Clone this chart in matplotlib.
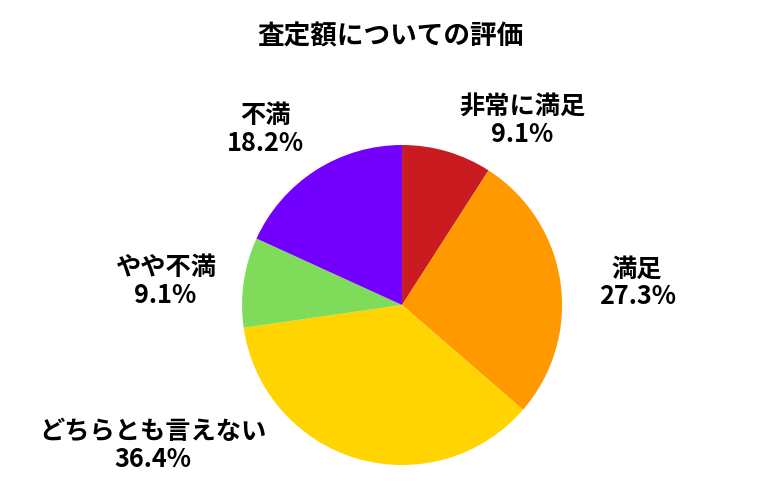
import matplotlib
matplotlib.use("Agg")
import matplotlib.pyplot as plt
import numpy as np

plt.rcParams['font.family'] = ['Noto Sans CJK JP', 'DejaVu Sans']

categories = ["非常に満足", "満足", "どちらとも言えない", "やや不満", "不満"]
values = [1, 3, 4, 1, 2]
colors = ["#C91B20", "#FF9900", "#FFD400", "#7FDB5A", "#7300FF"]

# label centre positions (in units of pie radius)
label_pos = [(0.75, 1.156), (1.469, 0.138), (-1.556, -0.875), (-1.481, 0.144), (-0.856, 1.094)]

fig = plt.figure(figsize=(7.8, 5.0), dpi=100)
ax = fig.add_axes([0.3103, 0.07, 0.4103, 0.64])
wedges, _ = ax.pie(values, colors=colors, startangle=90, counterclock=False,
                   radius=1.0, wedgeprops=dict(linewidth=0))
ax.set_xlim(-1, 1)
ax.set_ylim(-1, 1)
ax.set_aspect('equal')

total = sum(values)
for cat, v, (x, y) in zip(categories, values, label_pos):
    pct = v / total * 100
    ax.text(x, y, f"{cat}\n{pct:.1f}%", ha='center', va='center', fontsize=18.2,
            fontweight='bold', linespacing=1.05, clip_on=False)

fig.text(0.5, 0.927, "査定額についての評価", ha='center', va='center', fontsize=19.2, fontweight='bold')

fig.savefig("out.png", dpi=100)
